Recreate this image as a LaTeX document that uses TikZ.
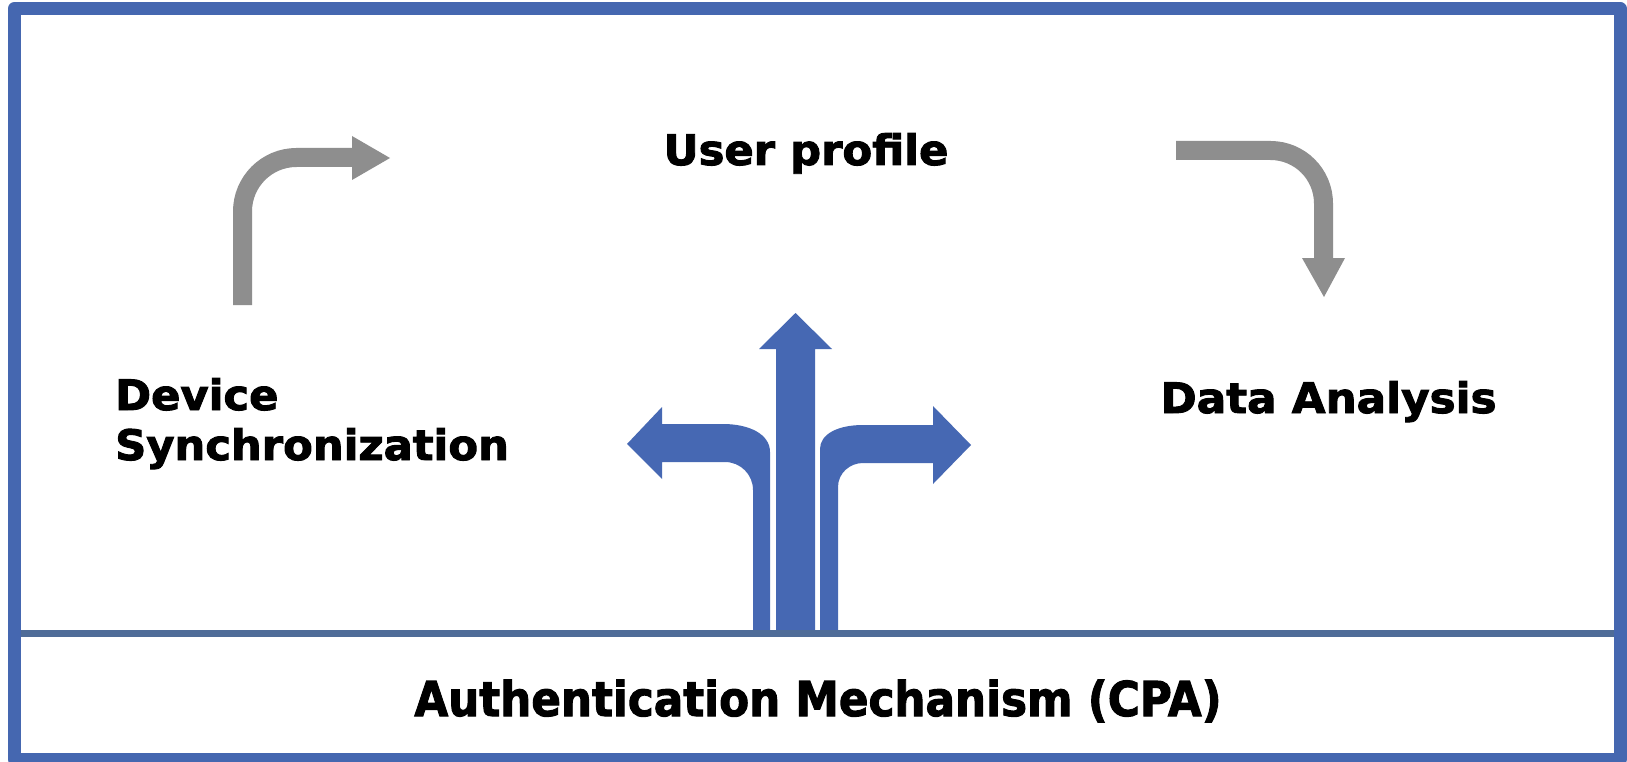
\documentclass[tikz,border=0pt]{standalone}
\usepackage{fontspec}
\setmainfont{DejaVu Sans}[BoldFeatures={FakeBold=2.2}]
\definecolor{frameblue}{HTML}{4567B0}
\definecolor{rulecol}{HTML}{4F6C98}
\definecolor{arrowblue}{HTML}{4668B3}
\definecolor{arrowgray}{HTML}{8E8E8E}
\begin{document}
\begin{tikzpicture}[x=1pt,y=-1pt,
  lbl/.style={font=\fontsize{42}{50}\selectfont\bfseries, inner sep=0pt, text=black},
  grayturn/.style={draw=arrowgray, line width=19pt},
  grayhead/.style={fill=arrowgray},
  bluearrow/.style={fill=arrowblue}]
\useasboundingbox (0,0) rectangle (1627,762);
\fill[white] (0,0) rectangle (1627,762);

% labels
\node[lbl, align=left, anchor=base west] (sync) at (115,460)
  {\scalebox{1.03}[1]{Device}\\\scalebox{1.03}[1]{Synchronization}};
\node[lbl, anchor=base] (profile) at (806,165) {\scalebox{1.03}[1]{User profile}};
\node[lbl, anchor=base] (analysis) at (1328.5,413) {\scalebox{1.04}[1]{Data Analysis}};
\node[inner sep=0pt, anchor=base] (auth) at (818,716)
  {\scalebox{0.91}[1]{\fontsize{48}{56}\selectfont\bfseries Authentication Mechanism (CPA)}};

% grey turn arrow: synchronization -> profile
\coordinate (g1a) at (242.5,305);
\coordinate (g1b) at (242.5,157.5);
\coordinate (g1c) at (353,157.5);
\draw[grayturn, rounded corners=54pt] (g1a) -- (g1b) -- (g1c);
\fill[grayhead] (352,136) -- (390,158) -- (352,180) -- cycle;

% grey turn arrow: profile -> analysis
\coordinate (g2a) at (1176,150.5);
\coordinate (g2b) at (1323.5,150.5);
\coordinate (g2c) at (1323.5,259);
\draw[grayturn, rounded corners=53pt] (g2a) -- (g2b) -- (g2c);
\fill[grayhead] (1302,258) -- (1345,258) -- (1324,297) -- cycle;

% three-way blue arrow rising from the base bar
\fill[bluearrow] (776,632) -- (776,349) -- (759,349) -- (795.5,313) -- (832,349)
  -- (815,349) -- (815,632) -- cycle;
\fill[bluearrow] (753,632) -- (753,490) .. controls (753,474.5) and (740.5,462) .. (725,462)
  -- (662,462) -- (662,479) -- (627,444) -- (662,407) -- (662,424) -- (723,424)
  .. controls (749,424) and (770,434) .. (770,452) -- (770,632) -- cycle;
\fill[bluearrow] (838,632) -- (838,487) .. controls (838,473) and (850,463) .. (863,463)
  -- (933,463) -- (933,484) -- (971,445) -- (933,406) -- (933,425) -- (863,425)
  .. controls (838,425) and (820,434) .. (820,449) -- (820,632) -- cycle;

% frame and dividing rule
\draw[rulecol, line width=7pt] (14.5,633.5) -- (1620,633.5);
\draw[frameblue, line width=13pt, line join=round] (14.5,8.5) rectangle (1620,759);
\end{tikzpicture}
\end{document}
